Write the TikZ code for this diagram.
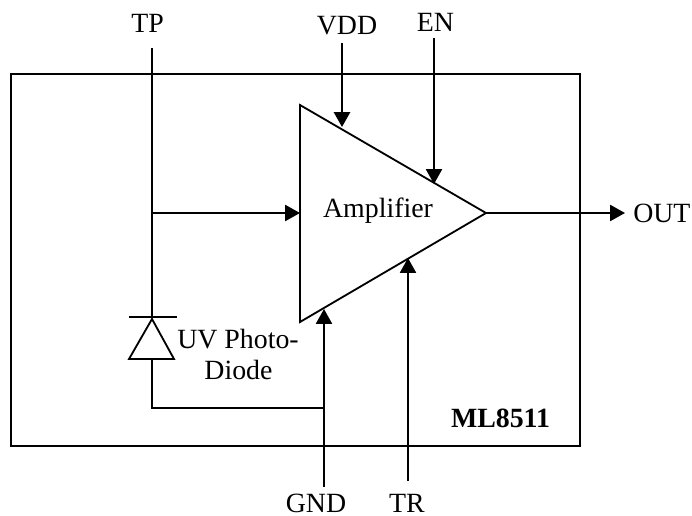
\documentclass[tikz,border=0pt]{standalone}
\usepackage{fontspec}
\setmainfont{Liberation Serif}
\usetikzlibrary{arrows.meta}
\tikzset{
  wire/.style={line width=1.3pt},
  feed/.style={line width=1.3pt,-{Triangle[length=0.37cm,width=0.40cm]}},
  lbl/.style={inner sep=0pt,font=\fontsize{19.8}{23}\selectfont}
}
\begin{document}
\begin{tikzpicture}[x=0.025cm,y=-0.025cm,>=stealth]

  \useasboundingbox (0,0) rectangle (692,515);

  \def\Cx{486};
  \def\Cy{213};

  \begin{scope}   % ramecek a zesilovac

    \def\Lx{11};
    \def\Rx{580};
    \def\Ty{74};
    \def\By{446};
    \draw[wire] (\Lx,\Ty) rectangle (\Rx,\By);

    \def\Ax{300};
    \def\Ay{105};
    \def\Bx{\Ax};
    \def\By{322};
    \coordinate (AmpT) at (\Ax,\Ay);
    \coordinate (AmpB) at (\Bx,\By);
    \coordinate (AmpO) at (\Cx,\Cy);
    \coordinate (AmpI) at (\Ax,\Cy);
    \draw[wire,line join=miter] (AmpT)--(AmpO)--(AmpB)--cycle;

    \node[lbl] (amp) at (378,211) {Amplifier};
    \node[lbl] at (500.5,418) (chip) {\textbf{ML8511}};

  \end{scope}

  \begin{scope}   % fotodioda a vstup

    \def\Dx{152};
    \coordinate (TPs) at (\Dx,48);
    \coordinate (Tap) at (\Dx,\Cy);
    \coordinate (Bar) at (\Dx,317);
    \coordinate (Dtop) at (\Dx,319);
    \coordinate (Dbot) at (\Dx,359);
    \coordinate (Dl) at (129,359);
    \coordinate (Dr) at (174,359);
    \coordinate (BarL) at (129,317);
    \coordinate (BarR) at (177,317);
    \coordinate (Wcor) at (\Dx,408);
    \coordinate (Wend) at (324,408);

    \node[lbl] (tp) at (147.5,23) {TP};
    \node[lbl] (uv) at (238,339) {UV Photo-};
    \node[lbl] (diode) at (238.5,370) {Diode};

    \draw[wire] (TPs)--(Bar);
    \draw[wire] (BarL)--(BarR);
    \draw[wire,line join=miter] (Dtop)--(Dr)--(Dl)--cycle;
    \draw[wire] (Dbot)--(Wcor)--(Wend);
    \draw[feed] (Tap)--(AmpI);

  \end{scope}

  \begin{scope}   % vyvody zesilovace

    \coordinate (VDDs) at (342,43);
    \coordinate (VDDe) at (342,127);
    \coordinate (ENs) at (434,38);
    \coordinate (ENe) at (434,184);
    \coordinate (GNDs) at (324,487);
    \coordinate (GNDe) at (324,309);
    \coordinate (TRs) at (408,481);
    \coordinate (TRe) at (408,258);
    \coordinate (OUTe) at (625,213);

    \node[lbl] (vdd) at (347,25.5) {VDD};
    \node[lbl] (en) at (435.5,22.5) {EN};
    \node[lbl] (gnd) at (316,503) {GND};
    \node[lbl] (tr) at (407,503) {TR};
    \node[lbl,anchor=west] (out) at (633,213) {OUT};

    \draw[feed,line width=1.7pt] (VDDs)--(VDDe);
    \draw[feed] (ENs)--(ENe);
    \draw[feed] (GNDs)--(GNDe);
    \draw[feed] (TRs)--(TRe);
    \draw[feed] (AmpO)--(OUTe);

  \end{scope}

\end{tikzpicture}
\end{document}
